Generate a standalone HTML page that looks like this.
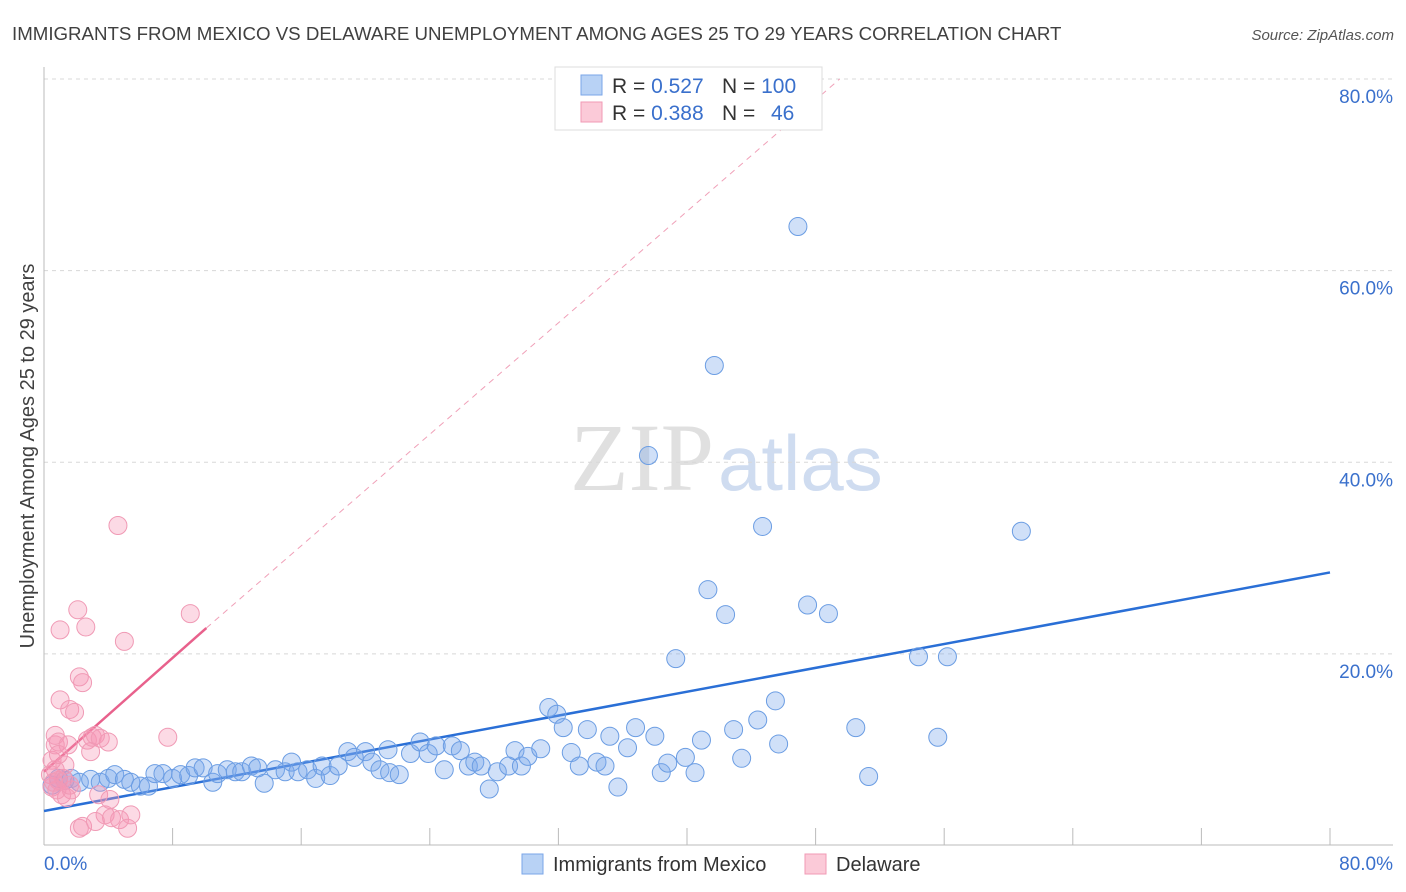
<!DOCTYPE html>
<html><head><meta charset="utf-8">
<style>
body{margin:0;background:#fff;font-family:"Liberation Sans",sans-serif;}
svg{display:block}
</style></head>
<body>
<svg id="chart" width="1406" height="892">
<text x="12" y="40" font-size="18.7" fill="#404040">IMMIGRANTS FROM MEXICO VS DELAWARE UNEMPLOYMENT AMONG AGES 25 TO 29 YEARS CORRELATION CHART</text>
<text x="1394" y="40" font-size="15" fill="#555" font-style="italic" text-anchor="end">Source: ZipAtlas.com</text>
<text x="714" y="490" font-size="96" fill="#e0e0e0" text-anchor="end" font-family="Liberation Serif,serif">ZIP</text>
<text x="718" y="490" font-size="78" fill="#cfdcf0">atlas</text>
<g id="grid"></g>
<g id="axes"></g>
<g id="trend"></g>
<g id="pts"></g>
<text transform="translate(34,456) rotate(-90)" font-size="20" fill="#404040" text-anchor="middle">Unemployment Among Ages 25 to 29 years</text>
<g>
<rect x="555" y="67" width="267" height="63" fill="#fff" stroke="#ddd"/>
<rect x="581" y="75" width="21" height="20" fill="#b8d2f5" stroke="#7aa6e8"/>
<rect x="581" y="102" width="21" height="20" fill="#fbcad8" stroke="#f09ab5"/>
<text x="612" y="93" font-size="21" fill="#333">R = <tspan fill="#3a70cc">0.527</tspan></text>
<text x="722" y="93" font-size="21" fill="#333">N = <tspan fill="#3a70cc">100</tspan></text>
<text x="612" y="120" font-size="21" fill="#333">R = <tspan fill="#3a70cc">0.388</tspan></text>
<text x="722" y="120" font-size="21" fill="#333">N = <tspan fill="#3a70cc" x="771">46</tspan></text>
</g>
<g>
<rect x="522" y="854" width="21" height="20" fill="#b8d2f5" stroke="#7aa6e8"/>
<text x="553" y="871" font-size="20" fill="#333">Immigrants from Mexico</text>
<rect x="805" y="854" width="21" height="20" fill="#fbcad8" stroke="#f09ab5"/>
<text x="836" y="871" font-size="20" fill="#333">Delaware</text>
</g>
</svg>
<script>
const blueX=[0.5,0.9,1.3,1.7,2.2,2.9,3.5,4.0,4.4,5.0,5.4,6.0,6.5,6.9,7.4,8.0,8.5,9.0,9.4,9.9,10.5,10.8,11.4,11.9,12.3,12.9,13.3,13.7,14.4,15.0,15.4,15.8,16.4,16.9,17.3,17.8,18.3,18.9,19.3,20.0,20.4,20.9,21.5,22.1,21.4,22.8,23.4,23.9,24.4,24.9,25.4,25.9,26.4,26.8,27.2,27.7,28.2,28.9,29.3,29.7,30.1,30.9,31.4,31.9,32.3,32.8,33.3,33.8,34.4,34.9,35.2,35.7,36.3,36.8,37.6,38.0,38.4,38.8,39.3,39.9,40.5,40.9,41.3,41.7,42.4,42.9,43.4,44.4,44.7,45.5,45.7,46.9,47.5,48.8,50.5,51.3,54.4,55.6,56.2,60.8];
const blueY=[6.3,7.0,6.8,7.0,6.6,6.9,6.6,7.0,7.4,6.9,6.6,6.2,6.2,7.5,7.5,7.0,7.4,7.3,8.1,8.1,6.6,7.5,7.9,7.7,7.7,8.3,8.1,6.5,7.9,7.7,8.7,7.7,7.9,7.0,8.3,7.3,8.3,9.8,9.2,9.8,8.7,7.9,7.6,7.4,10.0,9.6,10.8,9.6,10.4,7.9,10.4,9.9,8.3,8.7,8.3,5.9,7.7,8.3,9.9,8.3,9.3,10.1,14.4,13.7,12.3,9.7,8.3,12.1,8.7,8.3,11.4,6.1,10.2,12.3,40.7,11.4,7.6,8.6,19.5,9.2,7.6,11.0,26.7,50.1,24.1,12.1,9.1,13.1,33.3,15.1,10.6,64.6,25.1,24.2,12.3,7.2,19.7,11.3,19.7,32.8];
const pinkX=[0.5,0.7,0.9,0.5,0.7,0.7,1.0,1.0,0.9,1.2,1.3,1.5,1.6,1.7,1.9,2.1,2.2,2.4,2.6,2.7,2.9,3.0,3.2,3.4,3.5,3.8,4.0,4.1,4.2,4.6,4.7,5.0,5.2,5.4,7.7,9.1,2.2,2.4,3.2,1.1,1.4,0.8,0.4,0.6,1.6,0.9];
const pinkY=[6.1,7.9,6.8,8.9,10.5,11.5,15.2,22.5,10.8,7.0,8.4,10.5,14.2,5.8,13.9,24.6,17.6,17.0,22.8,11.0,9.8,11.3,11.5,5.3,11.2,3.2,10.8,4.8,2.9,33.4,2.7,21.3,1.8,3.2,11.3,24.2,1.8,2.0,2.5,5.3,5.0,5.8,7.4,6.6,6.3,9.5];
const blueTrend=[0,3.6,80,28.5];
const pinkTrend=[0,7.7,10.1,22.7];
const pinkTrendDash=[10.1,22.7,49.5,80];
const yTicks=[20,40,60,80];
const xTickVals=[8,16,24,32,40,48,56,64,72,80];

const NS="http://www.w3.org/2000/svg";
const X0=44,X1=1330,Y0=845.5,YTOP=79;
const sx=v=>X0+(X1-X0)*v/80;
const sy=v=>Y0-(Y0-YTOP)*v/80;
function mk(tag,attrs,parent){const e=document.createElementNS(NS,tag);for(const k in attrs)e.setAttribute(k,attrs[k]);parent.appendChild(e);return e;}
const grid=document.getElementById('grid'),axes=document.getElementById('axes'),trend=document.getElementById('trend'),pts=document.getElementById('pts');
yTicks.forEach(v=>{
  const l=mk('line',{x1:X0,x2:1393,y1:sy(v),y2:sy(v),stroke:'#d8d8d8','stroke-dasharray':'4,4'},grid);
  
  
  const t=mk('text',{x:1393,y:sy(v)+24,'font-size':19,fill:'#3a70cc','text-anchor':'end'},axes);
  t.textContent=v.toFixed(1)+'%';
  
  
});
const ax=mk('line',{x1:X0,x2:X0,y1:67,y2:845,stroke:'#bbb'},axes);


const bx=mk('line',{x1:X0,x2:1393,y1:845,y2:845,stroke:'#bbb'},axes);


xTickVals.forEach(v=>{
  const l=mk('line',{x1:sx(v),x2:sx(v),y1:828,y2:845,stroke:'#bbb'},axes);
  
  
});
const xl0=mk('text',{x:44,y:870,'font-size':19,fill:'#3a70cc'},axes);xl0.textContent='0.0%';


const xl1=mk('text',{x:1393,y:870,'font-size':19,fill:'#3a70cc','text-anchor':'end'},axes);xl1.textContent='80.0%';



const tb=mk('line',{x1:sx(blueTrend[0]),y1:sy(blueTrend[1]),x2:sx(blueTrend[2]),y2:sy(blueTrend[3]),stroke:'#2a6fd6','stroke-width':2.5},trend);


const td=mk('line',{x1:sx(pinkTrendDash[0]),y1:sy(pinkTrendDash[1]),x2:sx(pinkTrendDash[2]),y2:sy(pinkTrendDash[3]),stroke:'#f0a0b8','stroke-width':1,'stroke-dasharray':'6,5'},trend);


const tp=mk('line',{x1:sx(pinkTrend[0]),y1:sy(pinkTrend[1]),x2:sx(pinkTrend[2]),y2:sy(pinkTrend[3]),stroke:'#e8618c','stroke-width':2.5},trend);



blueX.forEach((v,i)=>{
  const c=mk('circle',{cx:sx(v),cy:sy(blueY[i]),r:9,fill:'rgba(120,165,235,0.35)',stroke:'#6b9de3','stroke-width':1},pts);
  
  
});
pinkX.forEach((v,i)=>{
  const c=mk('circle',{cx:sx(v),cy:sy(pinkY[i]),r:9,fill:'rgba(245,150,180,0.35)',stroke:'#f09ab5','stroke-width':1},pts);
  
  
});
</script>
</body></html>
